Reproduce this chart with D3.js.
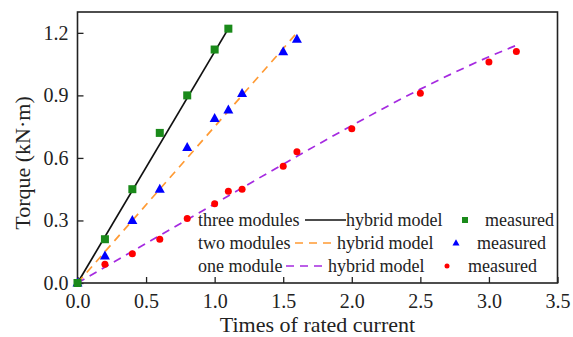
<!DOCTYPE html>
<html>
<head>
<meta charset="utf-8">
<script src="https://cdn.jsdelivr.net/npm/d3@7"></script>
<style>
  html, body { margin: 0; padding: 0; background: #fff; }
  svg { display: block; }
</style>
</head>
<body>
<svg id="chart" width="573" height="337"></svg>
<script>
// Torque vs. current multiple for one, two and three modules
const FONT = "'Liberation Serif', Tinos, 'Times New Roman', Times, 'DejaVu Serif', serif";

const xTicks = [0, 0.5, 1.0, 1.5, 2.0, 2.5, 3.0, 3.5];
const yTicks = [0, 0.3, 0.6, 0.9, 1.2];

// hybrid model curves
const threeModelX = [0, 1.1];
const threeModelY = [0, 1.22];
const twoModelX = [0, 1.6];
const twoModelY = [0, 1.2];
const oneModelX = [0, 0.5, 1.0, 1.5, 2.0, 2.5, 3.0, 3.2];
const oneModelY = [0, 0.19, 0.38, 0.57, 0.755, 0.93, 1.085, 1.14];

// measured points
const threeMeasX = [0, 0.2, 0.4, 0.6, 0.8, 1.0, 1.1];
const threeMeasY = [0, 0.21, 0.45, 0.72, 0.90, 1.12, 1.22];
const twoMeasX = [0, 0.2, 0.4, 0.6, 0.8, 1.0, 1.1, 1.2, 1.5, 1.6];
const twoMeasY = [0, 0.13, 0.30, 0.45, 0.65, 0.79, 0.83, 0.91, 1.11, 1.17];
const oneMeasX = [0, 0.2, 0.4, 0.6, 0.8, 1.0, 1.1, 1.2, 1.5, 1.6, 2.0, 2.5, 3.0, 3.2];
const oneMeasY = [0, 0.09, 0.14, 0.21, 0.31, 0.38, 0.44, 0.45, 0.56, 0.63, 0.74, 0.91, 1.06, 1.11];

const seriesNames = ["three modules", "two modules", "one module"];
const modelLabel = "hybrid model";
const measLabel = "measured";

const svg = d3.select("#chart");
const L = 77.5, R = 557.5, T = 12, B = 283;

const x = d3.scaleLinear().domain([0, 3.5]).range([L, R]);
const y = d3.scaleLinear().domain([0, 1.3]).range([B, T]);

const zip = (xs, ys) => xs.map((v, i) => [v, ys[i]]);

const series = [
  { model: zip(threeModelX, threeModelY), meas: zip(threeMeasX, threeMeasY),
    lineColor: "#111", dash: null, markColor: "#1a8a1a", shape: "square" },
  { model: zip(twoModelX, twoModelY), meas: zip(twoMeasX, twoMeasY),
    lineColor: "#ff9a33", dash: "8,6", markColor: "#0000ff", shape: "triangle" },
  { model: zip(oneModelX, oneModelY), meas: zip(oneMeasX, oneMeasY),
    lineColor: "#a52ae0", dash: "8,6", markColor: "#ff0000", shape: "circle" }
];

// axes (inward ticks)
const xAxis = d3.axisBottom(x).tickValues(xTicks).tickFormat(d3.format(".1f"))
  .tickSizeInner(-6).tickSizeOuter(0).tickPadding(11);
const yAxis = d3.axisLeft(y).tickValues(yTicks).tickFormat(d3.format(".1f"))
  .tickSizeInner(-6).tickSizeOuter(0).tickPadding(9);

const gx = svg.append("g").attr("transform", `translate(0,${B})`).call(xAxis);
const gy = svg.append("g").attr("transform", `translate(${L},0)`).call(yAxis);
[gx, gy].forEach(g => {
  g.attr("font-family", FONT).attr("font-size", 20);
  g.select(".domain").remove();
  g.selectAll(".tick line").attr("stroke", "#222").attr("stroke-width", 1.3);
  g.selectAll(".tick text").attr("fill", "#222");
});

// frame
svg.append("rect").attr("x", L).attr("y", T).attr("width", R - L).attr("height", B - T)
  .attr("fill", "none").attr("stroke", "#222").attr("stroke-width", 1.6);

// axis titles
svg.append("text").attr("x", (L + R) / 2).attr("y", 332).attr("text-anchor", "middle")
  .attr("font-family", FONT).attr("font-size", 22).attr("fill", "#222")
  .text("Times of rated current");
svg.append("text").attr("transform", "translate(30,163) rotate(-90)").attr("text-anchor", "middle")
  .attr("font-family", FONT).attr("font-size", 22).attr("fill", "#222")
  .text("Torque (kN·m)");

const line = d3.line().x(d => x(d[0])).y(d => y(d[1])).curve(d3.curveMonotoneX);

function drawMarker(g, shape, cx, cy, color, s) {
  if (shape === "square") {
    g.append("rect").attr("x", cx - s / 2).attr("y", cy - s / 2).attr("width", s).attr("height", s)
      .attr("fill", color);
  } else if (shape === "triangle") {
    const h = s * 0.9;
    g.append("path").attr("d", `M${cx},${cy - h * 0.6}L${cx + s / 2},${cy + h * 0.4}L${cx - s / 2},${cy + h * 0.4}Z`)
      .attr("fill", color);
  } else {
    g.append("circle").attr("cx", cx).attr("cy", cy).attr("r", s / 2).attr("fill", color);
  }
}

const plot = svg.append("g");
series.forEach(s => {
  plot.append("path").datum(s.model).attr("d", line).attr("fill", "none")
    .attr("stroke", s.lineColor).attr("stroke-width", 1.7)
    .attr("stroke-dasharray", s.dash);
});
// markers drawn in reverse order so the three-module squares sit on top
[...series].reverse().forEach(s => {
  const size = s.shape === "square" ? 8 : s.shape === "triangle" ? 10 : 7;
  s.meas.forEach(d => drawMarker(plot, s.shape, x(d[0]), y(d[1]), s.markColor, size));
});

// legend
const leg = svg.append("g").attr("font-family", FONT).attr("font-size", 18).attr("fill", "#222");
const rows = [
  { y: 226, lineX: [305, 346], modelX: 346, markX: 465, measX: 485 },
  { y: 249, lineX: [295, 332], modelX: 337, markX: 456, measX: 477 },
  { y: 272, lineX: [286, 323], modelX: 328, markX: 447, measX: 468 }
];
rows.forEach((r, i) => {
  const s = series[i];
  leg.append("text").attr("x", 198).attr("y", r.y).text(seriesNames[i]);
  leg.append("line").attr("x1", r.lineX[0]).attr("x2", r.lineX[1])
    .attr("y1", r.y - 6).attr("y2", r.y - 6)
    .attr("stroke", s.lineColor).attr("stroke-width", 1.7).attr("stroke-dasharray", s.dash);
  leg.append("text").attr("x", r.modelX).attr("y", r.y).text(modelLabel);
  const size = s.shape === "square" ? 6 : s.shape === "triangle" ? 7 : 5;
  drawMarker(leg, s.shape, r.markX, r.y - 6, s.markColor, size);
  leg.append("text").attr("x", r.measX).attr("y", r.y).text(measLabel);
});
</script>
</body>
</html>
